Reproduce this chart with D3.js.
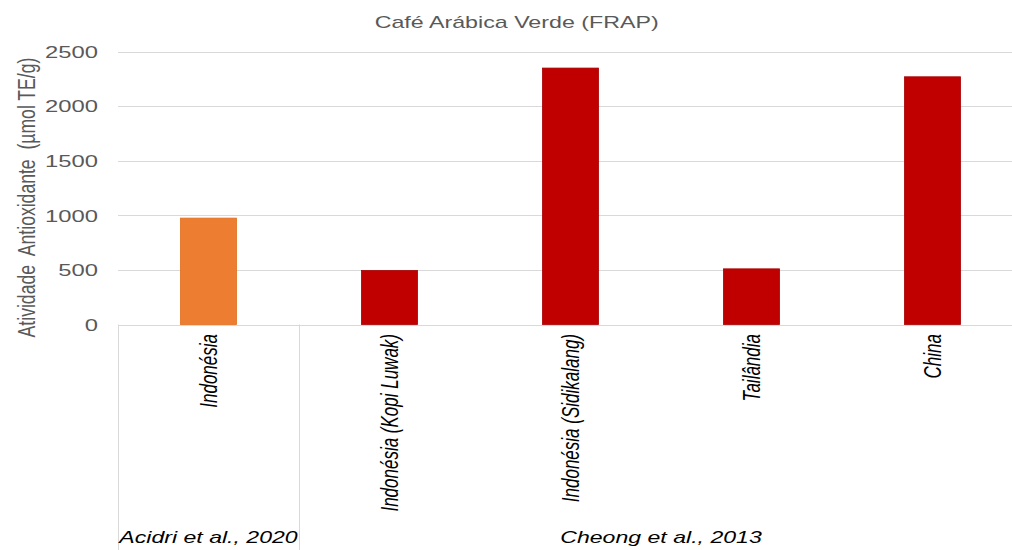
<!DOCTYPE html>
<html>
<head>
<meta charset="utf-8">
<script src="https://cdn.jsdelivr.net/npm/d3@7"></script>
<style>
  html, body { margin: 0; padding: 0; background: #fff; }
  svg { display: block; font-family: "Liberation Sans", Arial, sans-serif; }
  text { white-space: pre; }
</style>
</head>
<body>
<svg id="chart" width="1012" height="550"></svg>
<script>
// ---- data ----
const categories = ["Indonésia", "Indonésia (Kopi Luwak)", "Indonésia (Sidikalang)", "Tailândia", "China"];
const values = [975, 495, 2350, 510, 2270];
const categoryGroup = [0, 1, 1, 1, 1];
const groupLabels = ["Acidri et al., 2020", "Cheong et al., 2013"];
const yTicks = [0, 500, 1000, 1500, 2000, 2500];
const titleText = "Café Arábica Verde (FRAP)";
const yTitleText = "Atividade  Antioxidante  (µmol TE/g)";

(function () {
// ---- layout ----
const SX = 1.4; // horizontal stretch of the reference picture
const svg = d3.select("#chart");
const pLeft = 118, pRight = 1023, pTop = 51.7, pBottom = 324.5;
const groupColors = ["#ED7D31", "#C00000"];
const groupStroke = ["#E07020", "#A80000"];

const x = d3.scaleBand().domain(d3.range(categories.length))
  .range([pLeft, pRight]).paddingInner(0.69).paddingOuter(0.345);
const y = d3.scaleLinear().domain([0, 2500]).range([pBottom, pTop]);

// gridlines
svg.append("g").selectAll("line").data(yTicks.filter(d => d > 0)).join("line")
  .attr("x1", pLeft).attr("x2", pRight)
  .attr("y1", d => Math.round(y(d)) + 0.5).attr("y2", d => Math.round(y(d)) + 0.5)
  .attr("stroke", "#d9d9d9").attr("stroke-width", 1);

// y tick labels
svg.append("g").selectAll("text").data(yTicks).join("text")
  .attr("transform", d => `translate(98,${y(d)}) scale(${SX},1)`)
  .attr("dy", "0.36em")
  .attr("text-anchor", "end")
  .attr("font-size", 17)
  .attr("fill", "#595959")
  .text(d => d);

// bars
svg.append("g").selectAll("rect").data(values).join("rect")
  .attr("x", (d, i) => x(i))
  .attr("width", x.bandwidth())
  .attr("y", d => y(d))
  .attr("height", d => y(0) - y(d))
  .attr("fill", (d, i) => groupColors[categoryGroup[i]])
  .attr("stroke", (d, i) => groupStroke[categoryGroup[i]])
  .attr("stroke-width", 0.8);

// baseline axis
svg.append("line").attr("x1", pLeft).attr("x2", pRight)
  .attr("y1", Math.round(y(0)) + 0.5).attr("y2", Math.round(y(0)) + 0.5)
  .attr("stroke", "#d9d9d9");

// group separators and labels
const groups = groupLabels.map((g, gi) => {
  const idx = categoryGroup.map((c, i) => c === gi ? i : -1).filter(i => i >= 0);
  const x0 = x(idx[0]) - x.step() * x.paddingInner() / 2;
  const x1 = x(idx[idx.length - 1]) + x.bandwidth() + x.step() * x.paddingInner() / 2;
  return { label: g, x0, x1 };
});
const sepX = [...new Set(groups.flatMap(g => [Math.round(g.x0), Math.round(g.x1)]))];
svg.append("g").selectAll("line").data(sepX).join("line")
  .attr("x1", d => d + 0.5).attr("x2", d => d + 0.5)
  .attr("y1", y(0)).attr("y2", 550)
  .attr("stroke", "#d9d9d9");

svg.append("g").selectAll("text").data(groups).join("text")
  .attr("transform", d => `translate(${(d.x0 + d.x1) / 2},543) scale(${SX},1)`)
  .attr("text-anchor", "middle")
  .attr("font-size", 16.5)
  .attr("font-style", "italic")
  .attr("fill", "#000")
  .text(d => d.label);

// category labels (rotated)
svg.append("g").selectAll("text").data(categories).join("text")
  .attr("transform", (d, i) => `translate(${x(i) + x.bandwidth() / 2},334) scale(${SX},1) rotate(-90)`)
  .attr("dy", "0.35em")
  .attr("text-anchor", "end")
  .attr("font-size", 17)
  .attr("font-style", "italic")
  .attr("fill", "#000")
  .text(d => d);

// title
svg.append("text")
  .attr("transform", `translate(516.7,28) scale(${SX},1)`)
  .attr("text-anchor", "middle")
  .attr("font-size", 16.6)
  .attr("fill", "#595959")
  .text(titleText);

// y axis title
svg.append("text")
  .attr("transform", `translate(26,197.5) scale(${SX},1) rotate(-90)`)
  .attr("dy", "0.35em")
  .attr("text-anchor", "middle")
  .attr("font-size", 17.6)
  .attr("fill", "#595959")
  .text(yTitleText);
})();
</script>
</body>
</html>
